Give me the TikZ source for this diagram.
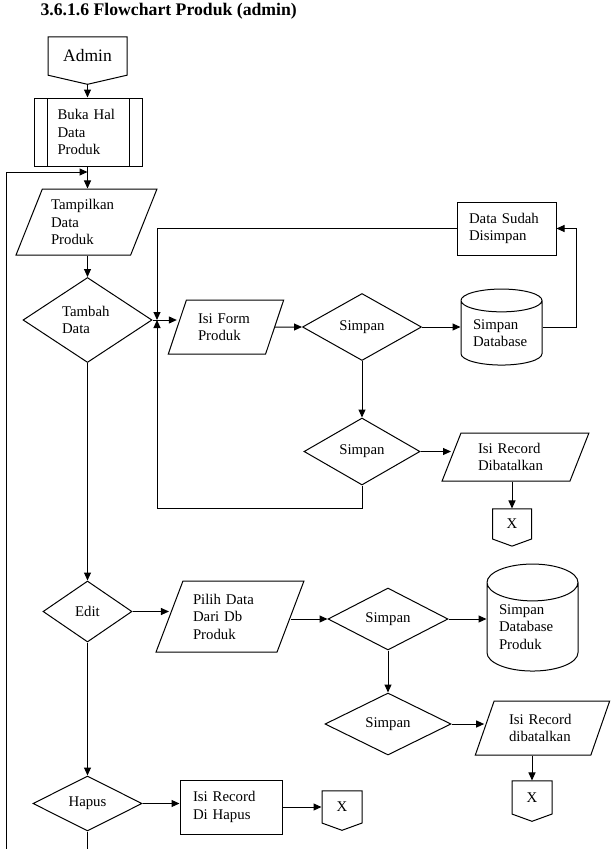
\documentclass[tikz,border=0pt]{standalone}
\usepackage{fontspec}
\setmainfont{Liberation Serif}
\usetikzlibrary{shapes.geometric,shapes.symbols,arrows.meta}
\begin{document}
\begin{tikzpicture}[x=1pt,y=-1pt,
  every node/.style={font=\fontsize{14.8}{17.5}\selectfont},
  base/.style={draw,line width=1pt,inner sep=0pt},
  dec/.style={base,diamond},
  io/.style={base,trapezium,trapezium left angle=65,trapezium right angle=115,trapezium stretches=true},
  box/.style={base,rectangle},
  sub/.style={base,rectangle,path picture={
     \draw[line width=1pt] ([xshift=13pt]path picture bounding box.north west) -- ([xshift=13pt]path picture bounding box.south west)
       ([xshift=-13pt]path picture bounding box.north east) -- ([xshift=-13pt]path picture bounding box.south east);}},
  db/.style={base,cylinder,shape border rotate=90},
  offpage/.style={base,signal,signal to=south,signal from=nowhere},
  arr/.style={line width=1pt,-{Triangle[length=8pt,width=7pt]}},
  ln/.style={line width=1pt}]
\useasboundingbox (0,0) rectangle (615,849);
\node[anchor=base west,font=\bfseries\fontsize{17.7}{21}\selectfont] (title) at (37,15) {3.6.1.6 Flowchart Produk (admin)};

\node[offpage,minimum width=79pt,minimum height=44pt,signal pointer angle=154,font=\fontsize{17.5}{20}\selectfont] (admin) at (87.5,56) {Admin};
\node[sub,minimum width=108pt,minimum height=68pt,text width=62pt,align=left] (buka) at (88.5,132) {Buka Hal\\Data\\Produk};
\node[io,minimum width=141pt,minimum height=66pt,text width=71pt,align=left] (tampil) at (86.5,222) {Tampilkan\\Data\\Produk};
\node[dec,aspect=1.5,minimum width=129pt,minimum height=85pt,text width=51pt,align=left] (tambah) at (87.5,320) {Tambah\\Data};
\node[io,minimum width=116pt,minimum height=54pt,text width=56pt,align=left] (isiform) at (226,327) {Isi Form\\Produk};
\node[dec,aspect=1.8,minimum width=119pt,minimum height=67pt] (s1) at (362,327) {Simpan};
\node[db,aspect=0.4,minimum width=81pt,minimum height=76pt,text width=57pt,align=left] (db1) at (501.5,333) {Simpan\\Database};
\node[box,minimum width=99pt,minimum height=53pt,text width=75pt,align=left] (sudah) at (506.5,228.5) {Data Sudah\\Disimpan};
\node[dec,aspect=1.7,minimum width=116pt,minimum height=67pt] (s2) at (362,451.5) {Simpan};
\node[io,minimum width=147pt,minimum height=48pt,text width=75pt,align=left] (batal1) at (515.5,457) {Isi Record\\Dibatalkan};
\node[offpage,minimum width=39pt,minimum height=32pt,signal pointer angle=140] (x1) at (512,524) {X};
\node[dec,aspect=1.5,minimum width=89pt,minimum height=61pt] (edit) at (87.5,611.5) {Edit};
\node[io,minimum width=148pt,minimum height=71pt,text width=74pt,align=left] (pilih) at (230,616.5) {Pilih Data\\Dari Db\\Produk};
\node[dec,aspect=1.9,minimum width=120pt,minimum height=62pt] (s3) at (388,619) {Simpan};
\node[db,aspect=0.55,minimum width=91pt,minimum height=107pt,text width=67pt,align=left] (db2) at (532.5,627) {Simpan\\Database\\Produk};
\node[dec,aspect=2,minimum width=126pt,minimum height=62pt] (s4) at (388,724) {Simpan};
\node[io,minimum width=135pt,minimum height=54pt,text width=67pt,align=left] (batal2) at (542.5,728) {Isi Record\\dibatalkan};
\node[offpage,minimum width=40pt,minimum height=35pt,signal pointer angle=140] (x2) at (532,797.5) {X};
\node[dec,aspect=2,minimum width=109pt,minimum height=55pt] (hapus) at (87.5,803.5) {Hapus};
\node[box,minimum width=102pt,minimum height=54pt,text width=76pt,align=left] (hrec) at (231,807) {Isi Record\\Di Hapus};
\node[offpage,minimum width=40pt,minimum height=34pt,signal pointer angle=140] (x3) at (342,807) {X};

\coordinate (lj) at (87.5,172);
\coordinate (lb) at (6,849);
\coordinate (J) at (157,320);
\coordinate (jb) at (157,508);
\coordinate (hb) at (87.5,849);

\draw[arr] (admin.south) -- (admin.south |- buka.north);
\draw[arr] (buka.south -| lj) -- (tampil.north -| lj);
\draw[arr] (lb) |- (lj);
\draw[arr] (tampil.south -| lj) -- (tambah.north);
\draw[arr] (tambah.east) -- (tambah.east -| isiform.west);
\draw[arr] (sudah.west) -| (J);
\draw[arr] (s2.south) |- (jb) -- (J);
\draw[arr] (isiform.east) -- (s1.west);
\draw[arr] (s1.east) -- (s1.east -| db1.west);
\draw[arr] (s1.east -| db1.east) -- ++(34,0) |- (sudah.east);
\draw[arr] (s1.south) -- (s2.north);
\draw[arr] (s2.east) -- (s2.east -| batal1.west);
\draw[arr] (x1.north |- batal1.south) -- (x1.north);
\draw[arr] (tambah.south) -- (edit.north);
\draw[arr] (edit.east) -- (edit.east -| pilih.west);
\draw[arr] (pilih.east |- s3.west) -- (s3.west);
\draw[arr] (s3.east) -- (s3.east -| db2.west);
\draw[arr] (s3.south) -- (s4.north);
\draw[arr] (s4.east) -- (s4.east -| batal2.west);
\draw[arr] (x2.north |- batal2.south) -- (x2.north);
\draw[arr] (edit.south) -- (hapus.north);
\draw[arr] (hapus.east) -- (hapus.east -| hrec.west);
\draw[arr] (hrec.east) -- (hrec.east -| x3.west);
\draw[ln] (hapus.south) -- (hb);
\end{tikzpicture}
\end{document}
